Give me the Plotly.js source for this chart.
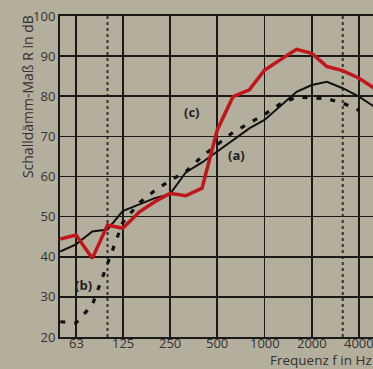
<!DOCTYPE html>
<html>
<head>
<meta charset="utf-8">
<script src="https://cdn.plot.ly/plotly-3.0.1.min.js"></script>
<style>html,body{margin:0;padding:0;background:#b4ae9c;}#chart{width:373px;height:369px;}</style>
</head>
<body>
<div id="chart"></div>
<script>
const freqs = [50,63,80,100,125,160,200,250,315,400,500,630,800,1000,1250,1600,2000,2500,3150,4000,5000];
const curveA = [41.3,43.1,46.3,46.8,51.4,53.1,54.6,55.6,61.0,63.5,66.2,69.1,72.0,74.1,77.4,81.1,82.8,83.6,82.0,79.9,77.4];
const freqsB = [50,63,80,100,125,160,200,250,315,400,500,630,800,1000,1250,1600,2000,2500,3150,4000];
const curveB = [23.8,23.5,28.0,38.0,48.5,53.5,56.5,59.0,61.2,65.0,68.0,71.0,73.3,75.5,78.0,79.8,79.6,79.4,78.3,76.5];
const curveC = [44.4,45.4,39.6,47.9,47.1,51.2,53.7,55.8,55.2,57.1,71.6,79.9,81.6,86.5,89.0,91.7,90.7,87.4,86.4,84.5,82.0];
const tickFreqs = [63,125,250,500,1000,2000,4000];
const tickLabels = ['63','125','250','500','1000','2000','4000'];
const dottedFreqs = [100,3150];
const yTicks = [20,30,40,50,60,70,80,90,100];
const labels = [{t:'(c)', f:343, v:76.1}, {t:'(a)', f:665, v:65.4}, {t:'(b)', f:70, v:33.0}];

const traces = [
  {x: freqsB, y: curveB, mode:'lines', line:{color:'#111', width:3.2, dash:'5px,9px'}, hoverinfo:'skip'},
  {x: freqs, y: curveA, mode:'lines', line:{color:'#111', width:2}, hoverinfo:'skip'},
  {x: freqs, y: curveC, mode:'lines', line:{color:'#c0171d', width:3.5}, hoverinfo:'skip'}
];

const shapes = dottedFreqs.map(f => ({type:'line', xref:'x', yref:'paper', x0:f, x1:f, y0:0, y1:1,
  line:{color:'#333', width:2, dash:'dot'}, layer:'below'}));

const font = 'Open Sans, sans-serif';
const annotations = labels.map(l => ({x: Math.log10(l.f), y: l.v, xref:'x', yref:'y', text:'<b>'+l.t+'</b>',
  showarrow:false, font:{family:font, size:13, color:'#222'}}));
tickFreqs.forEach((f, i) => annotations.push({x: Math.log10(f), y: -0.018, xref:'x', yref:'paper',
  xanchor:'center', yanchor:'middle', text: tickLabels[i], showarrow:false, borderpad:0,
  font:{family:font, size:13, color:'#333'}}));
annotations.push({xref:'paper', yref:'paper', x:1, y:-0.073, xanchor:'right', yanchor:'middle', text:'Frequenz f in Hz',
  showarrow:false, borderpad:0, font:{family:font, size:13.5, color:'#333'}});
annotations.push({xref:'paper', yref:'paper', x:-0.106, y:1.01, xanchor:'center', yanchor:'top', textangle:-90,
  text:'Schalldämm-Maß R in dB', showarrow:false, font:{family:font, size:14, color:'#333'}});

const layout = {
  width:373, height:369,
  margin:{l:60, r:0, t:16, b:32},
  paper_bgcolor:'#b4ae9c', plot_bgcolor:'#b4ae9c',
  showlegend:false,
  xaxis:{type:'log', range:[1.6974, 3.691], tickvals:tickFreqs, showticklabels:false,
    showgrid:true, gridcolor:'#1a1a1a', gridwidth:1.6, zeroline:false,
    showline:true, linecolor:'#1a1a1a', linewidth:2, mirror:true, ticks:'', automargin:false, fixedrange:true},
  yaxis:{range:[20,100], tickvals:yTicks, showgrid:true, gridcolor:'#1a1a1a', gridwidth:1.6, zeroline:false,
    showline:true, linecolor:'#1a1a1a', linewidth:2, ticks:'', ticklen:0, automargin:false,
    tickfont:{family:font, size:13, color:'#333'}, fixedrange:true},
  shapes: shapes,
  annotations: annotations
};

Plotly.newPlot('chart', traces, layout, {displayModeBar:false, staticPlot:true});
</script>
</body>
</html>
